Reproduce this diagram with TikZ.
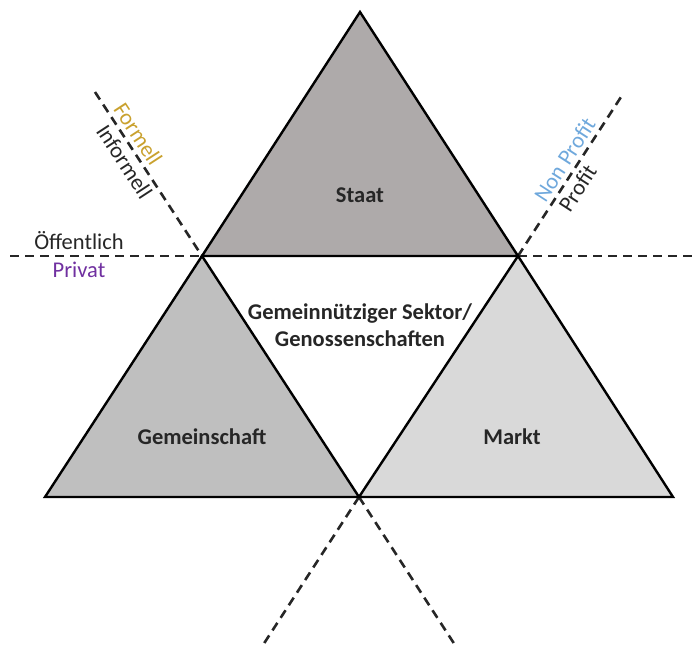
\documentclass[tikz,border=0pt]{standalone}
\usepackage{fontspec}
\setmainfont{Carlito}
\definecolor{staatgrau}{HTML}{AEAAAA}
\definecolor{gemgrau}{HTML}{BFBFBF}
\definecolor{marktgrau}{HTML}{D9D9D9}
\definecolor{formgold}{HTML}{C9A12E}
\definecolor{nonblau}{HTML}{6FA8DC}
\definecolor{privlila}{HTML}{7030A0}
\definecolor{strich}{HTML}{262626}
\begin{document}
\begin{tikzpicture}[x=1pt, y=-1pt,
		every node/.style={font=\fontsize{22.5}{27}\selectfont, text=strich},
		dreieck/.style={draw=black, line width=2.4pt, line join=miter},
		trenner/.style={draw=strich, line width=2.6pt, dash pattern=on 9pt off 6pt},
		feld/.style={font=\fontsize{22.5}{27}\selectfont\bfseries, align=center}]
			\useasboundingbox (0,0) rectangle (693,645);

			% Ecken
			\coordinate (spitze) at (360,12);
			\coordinate (li) at (202,256);
			\coordinate (re) at (518,256);
			\coordinate (ul) at (45,497);
			\coordinate (um) at (359,497);
			\coordinate (ur) at (673,497);

			% freie Enden der Trennlinien
			\coordinate (hl) at (10,256);
			\coordinate (hr) at (693,256);
			\coordinate (dlo) at (95,92);
			\coordinate (dlu) at (455,645);
			\coordinate (dro) at (621,97);
			\coordinate (dru) at (263,645);

			\draw[trenner] (hl) -- (li) (re) -- (hr);
			\draw[trenner] (dlo) -- (li)
				node[pos=0.3, sloped, above=3pt, inner sep=1pt, text=formgold] {Formell}
				node[pos=0.38, sloped, below=3pt, inner sep=1pt] {Informell};
			\draw[trenner] (re) -- (dro)
				node[pos=0.56, sloped, above=3pt, inner sep=1pt, text=nonblau] {Non Profit}
				node[pos=0.47, sloped, below=3pt, inner sep=1pt] {Profit};
			\draw[trenner] (um) -- (dlu);
			\draw[trenner] (um) -- (dru);

			\filldraw[dreieck, fill=staatgrau] (spitze) -- (re) -- (li) -- cycle;
			\filldraw[dreieck, fill=gemgrau] (li) -- (um) -- (ul) -- cycle;
			\filldraw[dreieck, fill=marktgrau] (re) -- (ur) -- (um) -- cycle;

			\draw (79,241) node (oeff) {Öffentlich};
			\draw (79,270) node (priv) [text=privlila] {Privat};

			\draw (360,195) node (staat) [feld] {Staat};
			\draw (360,325) node (sektor) [feld] {Gemeinnütziger Sektor/\\Genossenschaften};
			\draw (202,437) node (gemeinschaft) [feld] {Gemeinschaft};
			\draw (512,437) node (markt) [feld] {Markt};

		\end{tikzpicture}
\end{document}
